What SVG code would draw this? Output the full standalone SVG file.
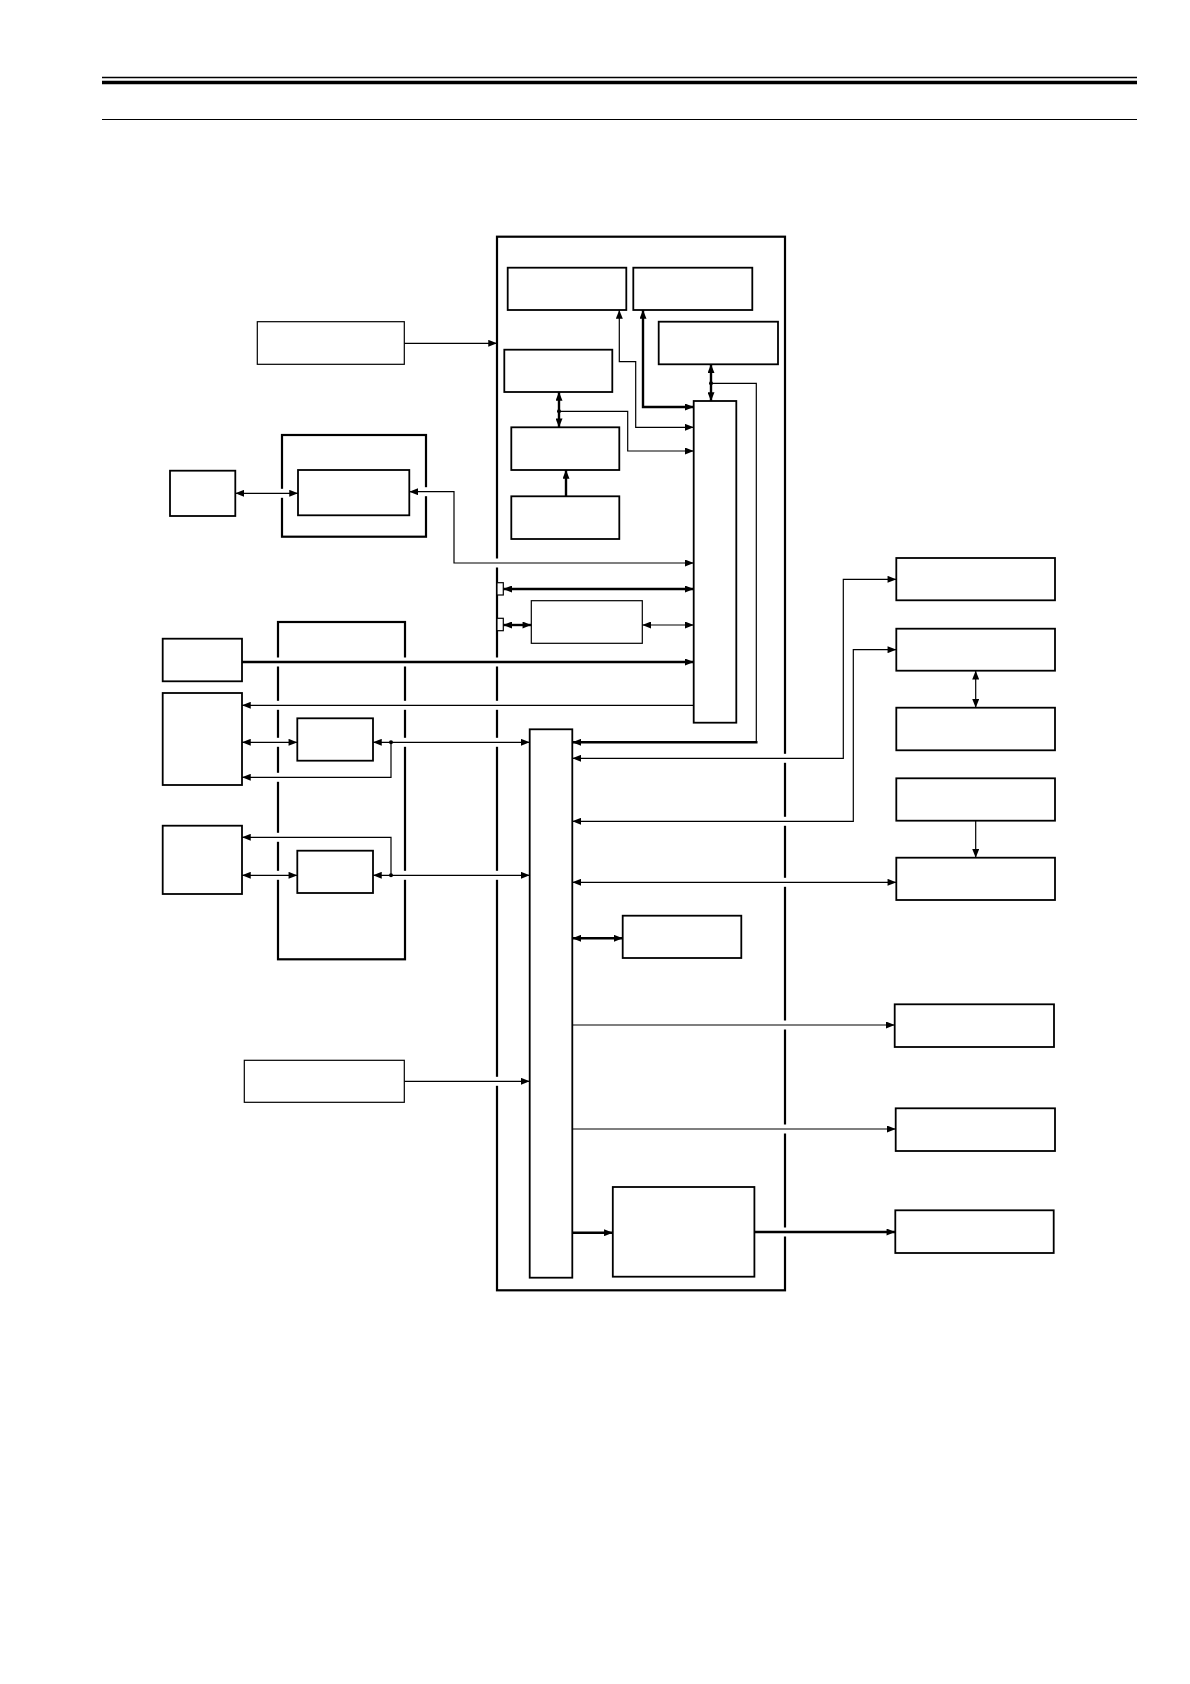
<svg xmlns="http://www.w3.org/2000/svg" width="1190" height="1684" viewBox="0 0 1190 1684">
<style>
.b{fill:#fff;stroke:#000;stroke-width:1.8}
.bt{fill:#fff;stroke:#000;stroke-width:1.2}
.bk{fill:#fff;stroke:#000;stroke-width:2.2}
.c{fill:none;stroke:#000;stroke-width:1.2}
.ck{fill:none;stroke:#000;stroke-width:2.4}
.g{fill:#fff;stroke:none}
</style>
<defs>
<marker id="ah" viewBox="0 0 10 8" refX="10" refY="4" markerWidth="9" markerHeight="7" markerUnits="userSpaceOnUse" orient="auto-start-reverse"><path d="M0,0 L10,4 L0,8 z" fill="#000"/></marker>
</defs>
<rect width="1190" height="1684" fill="#fff"/>
<g id="header">
<line x1="102" y1="77.5" x2="1137" y2="77.5" stroke="#000" stroke-width="1.3"/>
<line x1="102" y1="82.5" x2="1137" y2="82.5" stroke="#000" stroke-width="3.4"/>
<line x1="102" y1="119.5" x2="1137" y2="119.5" stroke="#000" stroke-width="1.2"/>
</g>
<g id="main"><rect class="bk" x="497" y="236.7" width="288" height="1053.6"/></g>
<g id="T1"><rect class="b" x="507.7" y="267.7" width="118.6" height="42.3"/></g>
<g id="T2"><rect class="b" x="633.3" y="267.7" width="119" height="42.3"/></g>
<g id="T3"><rect class="b" x="658.7" y="321.7" width="119.3" height="42.6"/></g>
<g id="M1"><rect class="b" x="504.3" y="349.7" width="108" height="42.3"/></g>
<g id="M2"><rect class="b" x="511.3" y="427.3" width="108" height="42.7"/></g>
<g id="M3"><rect class="b" x="511.3" y="496.3" width="108" height="42.7"/></g>
<g id="bus1"><rect class="b" x="693.7" y="401" width="42.6" height="321.7"/></g>
<g id="P"><rect class="bt" x="531.3" y="600.7" width="111" height="42.6"/></g>
<g id="port1"><rect class="bt" x="497" y="582.7" width="6.3" height="12.3"/></g>
<g id="port2"><rect class="bt" x="497" y="618.3" width="6.3" height="12.4"/></g>
<g id="bus2"><rect class="b" x="529.7" y="729.3" width="42.6" height="548.4"/></g>
<g id="Q"><rect class="b" x="622.7" y="915.7" width="118.6" height="42.3"/></g>
<g id="U"><rect class="b" x="612.8" y="1187" width="141.6" height="89.7"/></g>
<g id="A"><rect class="bt" x="257.3" y="321.7" width="147" height="42.6"/></g>
<g id="K"><rect class="b" x="170" y="470.7" width="65.3" height="45.3"/></g>
<g id="O"><rect class="bk" x="282" y="435" width="144" height="101.7"/></g>
<g id="I"><rect class="b" x="298" y="470" width="111.3" height="45.3"/></g>
<g id="L1"><rect class="b" x="162.7" y="638.7" width="79.3" height="42.6"/></g>
<g id="L2"><rect class="b" x="162.7" y="693" width="79.3" height="92"/></g>
<g id="L3"><rect class="b" x="162.7" y="825.7" width="79.3" height="68.3"/></g>
<g id="G"><rect class="bk" x="278" y="622" width="127" height="337.3"/></g>
<g id="G1"><rect class="b" x="297.3" y="718.3" width="75.7" height="42.4"/></g>
<g id="G2"><rect class="b" x="297.3" y="850.7" width="75.7" height="42.3"/></g>
<g id="S"><rect class="bt" x="244.3" y="1060.3" width="160" height="42"/></g>
<g id="R1"><rect class="b" x="896.3" y="558" width="158.7" height="42.3"/></g>
<g id="R2"><rect class="b" x="896.3" y="628.7" width="158.7" height="42"/></g>
<g id="R3"><rect class="b" x="896.3" y="707.7" width="158.7" height="42.6"/></g>
<g id="R4"><rect class="b" x="896.3" y="778.3" width="158.7" height="42.4"/></g>
<g id="R5"><rect class="b" x="896.3" y="857.7" width="158.7" height="42.3"/></g>
<g id="R6"><rect class="b" x="894.7" y="1004.3" width="159.3" height="42.7"/></g>
<g id="R7"><rect class="b" x="895.7" y="1108.3" width="159.3" height="42.7"/></g>
<g id="R8"><rect class="b" x="895.3" y="1210.3" width="158.4" height="42.7"/></g>
<g id="gaps">
<rect class="g" x="495" y="558.5" width="4" height="9"/>
<rect class="g" x="495" y="657.5" width="4" height="9"/>
<rect class="g" x="495" y="700.8" width="4" height="9"/>
<rect class="g" x="495" y="737.8" width="4" height="9"/>
<rect class="g" x="495" y="870.8" width="4" height="9"/>
<rect class="g" x="495" y="1076.8" width="4" height="9"/>
<rect class="g" x="276" y="657.5" width="4" height="9"/>
<rect class="g" x="276" y="700.8" width="4" height="9"/>
<rect class="g" x="276" y="737.8" width="4" height="9"/>
<rect class="g" x="276" y="772.8" width="4" height="9"/>
<rect class="g" x="276" y="832.8" width="4" height="9"/>
<rect class="g" x="276" y="870.8" width="4" height="9"/>
<rect class="g" x="403" y="657.5" width="4" height="9"/>
<rect class="g" x="403" y="700.8" width="4" height="9"/>
<rect class="g" x="403" y="737.8" width="4" height="9"/>
<rect class="g" x="403" y="870.8" width="4" height="9"/>
<rect class="g" x="783" y="753.8" width="4" height="9"/>
<rect class="g" x="783" y="816.8" width="4" height="9"/>
<rect class="g" x="783" y="877.8" width="4" height="9"/>
<rect class="g" x="783" y="1020.5" width="4" height="9"/>
<rect class="g" x="783" y="1124.5" width="4" height="9"/>
<rect class="g" x="783" y="1227.5" width="4" height="9"/>
<rect class="g" x="280" y="488.8" width="4" height="9"/>
<rect class="g" x="424" y="487.2" width="4" height="9"/>
</g>
<g id="connectors">
<line class="c" x1="404.3" y1="343.3" x2="497" y2="343.3" marker-end="url(#ah)"/>
<line class="c" x1="235.3" y1="493.3" x2="298" y2="493.3" marker-start="url(#ah)" marker-end="url(#ah)"/>
<path class="c" d="M693.7,563 H454 V491.7 H409.3" marker-start="url(#ah)" marker-end="url(#ah)"/>
<line class="ck" x1="503.3" y1="589" x2="693.7" y2="589" marker-start="url(#ah)" marker-end="url(#ah)"/>
<line class="ck" x1="503.3" y1="625" x2="531.3" y2="625" marker-start="url(#ah)" marker-end="url(#ah)"/>
<line class="c" x1="642.3" y1="625" x2="693.7" y2="625" marker-start="url(#ah)" marker-end="url(#ah)"/>
<line class="ck" x1="242" y1="662" x2="693.7" y2="662" marker-end="url(#ah)"/>
<line class="c" x1="693.7" y1="705.3" x2="242" y2="705.3" marker-end="url(#ah)"/>
<line class="c" x1="242" y1="742.3" x2="297.3" y2="742.3" marker-start="url(#ah)" marker-end="url(#ah)"/>
<line class="c" x1="373" y1="742.3" x2="529.7" y2="742.3" marker-start="url(#ah)" marker-end="url(#ah)"/>
<path class="c" d="M391,742.3 V777.3 H242" marker-end="url(#ah)"/>
<circle cx="391" cy="742.3" r="2"/>
<line class="c" x1="242" y1="875.3" x2="297.3" y2="875.3" marker-start="url(#ah)" marker-end="url(#ah)"/>
<line class="c" x1="373" y1="875.3" x2="529.7" y2="875.3" marker-start="url(#ah)" marker-end="url(#ah)"/>
<path class="c" d="M391,875.3 V837.3 H242" marker-end="url(#ah)"/>
<circle cx="391" cy="875.3" r="2"/>
<line class="ck" x1="559" y1="392" x2="559" y2="427.3" marker-start="url(#ah)" marker-end="url(#ah)"/>
<path class="c" d="M559,411.3 H627.7 V451 H693.7" marker-end="url(#ah)"/>
<circle cx="559" cy="411.3" r="2"/>
<line class="ck" x1="566" y1="496.3" x2="566" y2="470" marker-end="url(#ah)"/>
<path class="c" d="M619.3,310 V361.7 H635.7 V427.3 H693.7" marker-start="url(#ah)" marker-end="url(#ah)"/>
<path class="ck" d="M643,310 V407 H693.7" marker-start="url(#ah)" marker-end="url(#ah)"/>
<line class="ck" x1="711" y1="364.3" x2="711" y2="401" marker-start="url(#ah)" marker-end="url(#ah)"/>
<path class="c" d="M711,383.3 H756.3 V742.3"/>
<circle cx="711" cy="383.3" r="2"/>
<line class="ck" x1="757.5" y1="742.3" x2="572.3" y2="742.3" marker-end="url(#ah)"/>
<path class="c" d="M572.3,758.3 H843.3 V579.3 H896.3" marker-start="url(#ah)" marker-end="url(#ah)"/>
<path class="c" d="M572.3,821.3 H853.3 V649.7 H896.3" marker-start="url(#ah)" marker-end="url(#ah)"/>
<line class="c" x1="975.7" y1="670.7" x2="975.7" y2="707.7" marker-start="url(#ah)" marker-end="url(#ah)"/>
<line class="c" x1="975.7" y1="820.7" x2="975.7" y2="857.7" marker-end="url(#ah)"/>
<line class="c" x1="572.3" y1="882.3" x2="896.3" y2="882.3" marker-start="url(#ah)" marker-end="url(#ah)"/>
<line class="ck" x1="572.3" y1="938.3" x2="622.7" y2="938.3" marker-start="url(#ah)" marker-end="url(#ah)"/>
<line class="c" x1="572.3" y1="1025" x2="894.7" y2="1025" marker-end="url(#ah)"/>
<line class="c" x1="572.3" y1="1129" x2="895.7" y2="1129" marker-end="url(#ah)"/>
<line class="c" x1="404.3" y1="1081.3" x2="529.7" y2="1081.3" marker-end="url(#ah)"/>
<line class="ck" x1="572.3" y1="1232.7" x2="612.8" y2="1232.7" marker-end="url(#ah)"/>
<line class="ck" x1="754.4" y1="1232" x2="895.3" y2="1232" marker-end="url(#ah)"/>
</g>
</svg>
